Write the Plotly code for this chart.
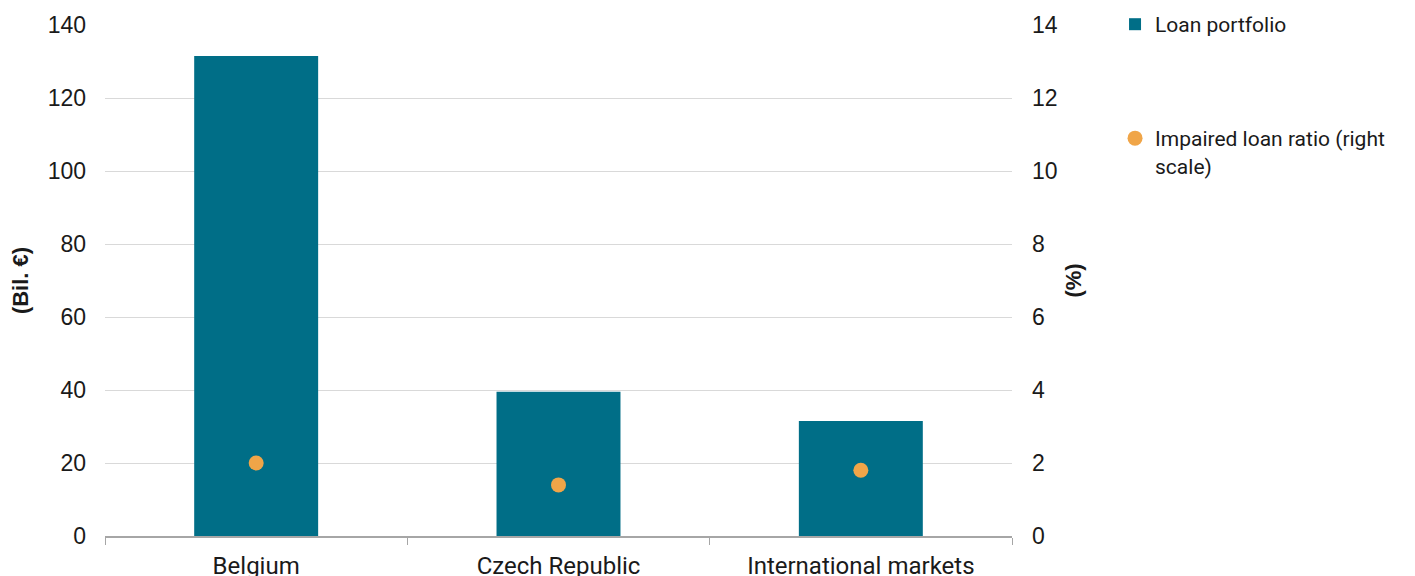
import plotly.graph_objects as go

categories = ["Belgium", "Czech Republic", "International markets"]
loan_portfolio = [131.5, 39.5, 31.5]
impaired_ratio = [2.0, 1.4, 1.8]
left_ticks = [0, 20, 40, 60, 80, 100, 120, 140]
right_ticks = [0, 2, 4, 6, 8, 10, 12, 14]

BAR_COLOR = "#006E87"
DOT_COLOR = "#F0A548"
NUM_FONT = "Liberation Sans, Arial, sans-serif"
TXT_FONT = "Roboto, Inter, sans-serif"

fig = go.Figure()
fig.add_trace(go.Bar(
    x=categories, y=loan_portfolio, name="Loan portfolio",
    marker=dict(color=BAR_COLOR, line=dict(width=0)),
    yaxis="y", legend="legend", showlegend=True,
))
fig.add_trace(go.Scatter(
    x=categories, y=impaired_ratio, name="Impaired loan ratio (right<br>scale)",
    mode="markers", marker=dict(color=DOT_COLOR, size=15),
    yaxis="y2", legend="legend2", showlegend=True,
))

fig.update_layout(
    width=1407, height=568,
    margin=dict(l=97, r=403, t=17, b=40, autoexpand=False),
    plot_bgcolor="white", paper_bgcolor="white",
    bargap=0.59,
    showlegend=True,
    font=dict(family=TXT_FONT, size=20, color="#1a1a1a"),
    xaxis=dict(
        automargin=False,
        showgrid=False, showline=True, linecolor="#a6a6a6", linewidth=1.5,
        ticks="outside", tickson="boundaries", ticklen=7, tickcolor="#a6a6a6",
        tickfont=dict(family=TXT_FONT, size=24, color="#1a1a1a"),
        ticklabelstandoff=7,
    ),
    yaxis=dict(
        automargin=False,
        range=[0, 140], tickvals=left_ticks, showgrid=True, gridcolor="#d9d9d9",
        gridwidth=1, zeroline=False, showline=False,
        tickfont=dict(family=NUM_FONT, size=23, color="#1a1a1a"),
        title=dict(text="<b>(Bil. €)</b>", font=dict(family=NUM_FONT, size=22), standoff=14),
        ticklabelstandoff=18,
    ),
    yaxis2=dict(
        automargin=False,
        range=[0, 14], tickvals=right_ticks, overlaying="y", side="right",
        showgrid=False, zeroline=False, showline=False,
        tickfont=dict(family=NUM_FONT, size=23, color="#1a1a1a"),
        title=dict(text="<b>(%)</b>", font=dict(family=NUM_FONT, size=22), standoff=8),
        ticklabelstandoff=19,
    ),
    legend=dict(
        x=1.1136, y=1.041, xanchor="left", yanchor="top",
        font=dict(family=TXT_FONT, size=21, color="#1a1a1a"),
        bgcolor="rgba(0,0,0,0)", itemwidth=30,
    ),
    legend2=dict(
        x=1.1136, y=0.818, xanchor="left", yanchor="top", valign="top",
        font=dict(family=TXT_FONT, size=21, color="#1a1a1a"),
        bgcolor="rgba(0,0,0,0)", itemwidth=30,
    ),
)

fig.write_html("out.html")
